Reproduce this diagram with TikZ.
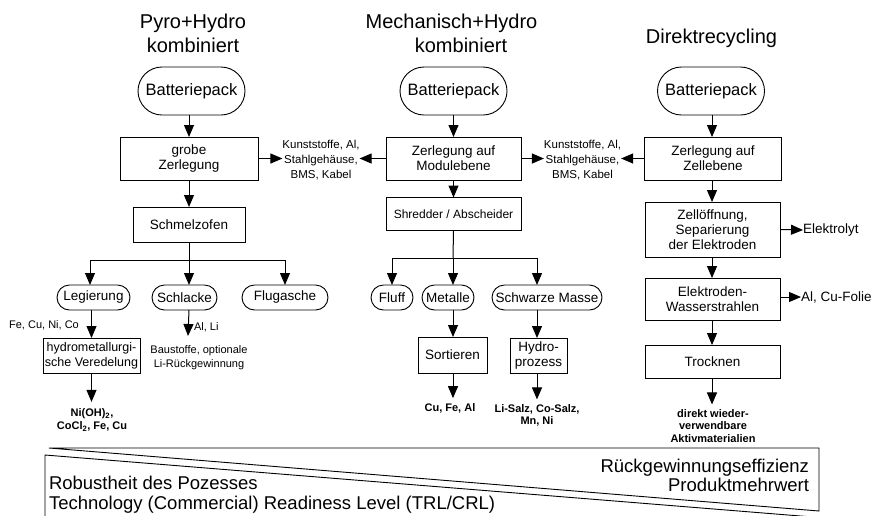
\documentclass[tikz,border=0pt]{standalone}
\usepackage{fontspec}
\setmainfont{Liberation Sans}
\usetikzlibrary{shapes.misc,arrows.meta}
\begin{document}
\begin{tikzpicture}[x=1pt,y=-1pt,
  every node/.style={inner sep=0pt, outer sep=0pt},
  ttl/.style={anchor=base, font=\fontsize{20}{24}\selectfont},
  pbox/.style={draw, line width=0.9pt, align=center, font=\fontsize{13.5}{15}\selectfont},
  stad/.style={draw, line width=0.9pt, rounded rectangle, minimum width=107, minimum height=48, font=\fontsize{16.5}{18}\selectfont},
  oval/.style={draw, line width=0.9pt, rounded rectangle, minimum height=25, font=\fontsize{13.5}{15}\selectfont},
  side/.style={align=center, font=\fontsize{11.5}{15}\selectfont},
  small/.style={align=center, font=\fontsize{11}{14}\selectfont},
  res/.style={align=center, font=\fontsize{11}{12.5}\selectfont\bfseries},
  arr/.style={line width=1pt, -{Triangle[length=12pt,width=10pt]}},
  ln/.style={line width=1pt},
  wedge/.style={line width=0.9pt},
  bot/.style={font=\fontsize{18.5}{20}\selectfont}
]
\useasboundingbox (0,0) rectangle (872,515);

% titles
\node[ttl] (t1a) at (193,28.5) {Pyro+Hydro};
\node[ttl] (t1b) at (193,52.5) {kombiniert};
\node[ttl] (t2a) at (451.5,28.5) {Mechanisch+Hydro};
\node[ttl] (t2b) at (461,52.5) {kombiniert};
\node[ttl] (t3) at (711.5,43) {Direktrecycling};

% ---------- left column
\node[stad] (bpL) at (191.5,91) {Batteriepack};
\node[pbox, minimum width=138, minimum height=43] (grob) at (189,158.5) {grobe\\Zerlegung};
\node[pbox, minimum width=112, minimum height=35] (schm) at (189,224.5) {Schmelzofen};
\coordinate (brL) at (189,260);
\coordinate (bL1) at (90,260);
\coordinate (bL3) at (285,260);
\node[oval, minimum width=73] (leg) at (93.5,297.5) {Legierung};
\node[oval, minimum width=65] (schl) at (184.5,297.5) {Schlacke};
\node[oval, minimum width=86] (flug) at (285,297.5) {Flugasche};
\node[pbox, font=\fontsize{12.5}{15}\selectfont, minimum width=97, minimum height=35] (hydm) at (91.5,355.5) {hydrometallurgi-\\sche Veredelung};
\node[small] (fecu) at (44,325) {Fe, Cu, Ni, Co};
\coordinate (slend) at (188,336);
\node[small, anchor=west] (alli) at (194,327) {Al, Li};
\node[small] (baust) at (199,358) {Baustoffe, optionale\\Li-Rückgewinnung};
\node[res] (resL) at (92,420) {Ni(OH)\textsubscript{2},\\CoCl\textsubscript{2}, Fe, Cu};

\draw[arr] (bpL.south -| grob) -- (grob.north);
\draw[arr] (grob) -- (schm);
\draw[ln] (schm.south) -- (brL);
\draw[ln] (bL1) -- (bL3);
\draw[arr] (bL1) -- (bL1 |- leg.north);
\draw[arr] (brL) -- (brL |- schl.north);
\draw[arr] (bL3) -- (bL3 |- flug.north);
\draw[arr] (leg.south -| hydm.north) -- (hydm.north);
\draw[arr] (brL |- schl.south) -- (slend);
\draw[arr, shorten >=7pt] (hydm.south) -- (hydm.south |- resL.north);

% ---------- middle column
\node[stad] (bpM) at (453.5,91) {Batteriepack};
\node[pbox, minimum width=135, minimum height=43] (mod) at (453.5,158.5) {Zerlegung auf\\Modulebene};
\node[side] (k1) at (321,160) {Kunststoffe, Al,\\Stahlgehäuse,\\BMS, Kabel};
\node[side] (k2) at (582.5,160) {Kunststoffe, Al,\\Stahlgehäuse,\\BMS, Kabel};
\node[pbox, font=\fontsize{12}{14}\selectfont, minimum width=135, minimum height=33] (shr) at (453.5,214) {Shredder / Abscheider};
\coordinate (brM) at (453,258);
\coordinate (bM1) at (392,258);
\coordinate (bM3) at (537,258);
\node[oval, minimum width=42] (fluff) at (392,297.5) {Fluff};
\node[oval, minimum width=52] (met) at (448,297.5) {Metalle};
\node[oval, minimum width=110] (schw) at (547,297.5) {Schwarze Masse};
\node[pbox, minimum width=69, minimum height=36] (sort) at (452.5,355) {Sortieren};
\node[pbox, minimum width=57, minimum height=35] (hyp) at (538.5,355.5) {Hydro-\\prozess};
\node[res] (resM1) at (450,408) {Cu, Fe, Al};
\node[res] (resM2) at (537,415.5) {Li-Salz, Co-Salz,\\Mn, Ni};

\draw[arr] (bpM.south -| mod) -- (mod.north);
\draw[arr] (mod) -- (shr);
\draw[arr] (grob.east) -- (grob.east -| k1.west);
\draw[arr] (mod.west) -- (mod.west -| k1.east);
\draw[arr] (mod.east) -- (mod.east -| k2.west);
\draw[ln] (shr.south) -- (brM);
\draw[ln] (bM1) -- (bM3);
\draw[arr] (bM1) -- (bM1 |- fluff.north);
\draw[arr] (brM) -- (brM |- met.north);
\draw[arr] (bM3) -- (bM3 |- schw.north);
\draw[arr] (brM |- met.south) -- (brM |- sort.north);
\draw[arr] (bM3 |- schw.south) -- (bM3 |- hyp.north);
\draw[arr, shorten >=5pt] (brM |- sort.south) -- (brM |- resM1.north);
\draw[arr, shorten >=5pt] (bM3 |- hyp.south) -- (bM3 |- resM2.north);

% ---------- right column
\node[stad] (bpR) at (711,91) {Batteriepack};
\node[pbox, minimum width=137, minimum height=43] (zell) at (713,158.5) {Zerlegung auf\\Zellebene};
\node[pbox, minimum width=135, minimum height=55] (zoff) at (712.5,229.5) {Zellöffnung,\\Separierung\\der Elektroden};
\node[pbox, minimum width=135, minimum height=42] (elw) at (712.5,299) {Elektroden-\\Wasserstrahlen};
\node[pbox, minimum width=135, minimum height=33] (troc) at (712.5,361.5) {Trocknen};
\node[anchor=west, font=\fontsize{13.5}{15}\selectfont] (elyt) at (803,230) {Elektrolyt};
\node[anchor=west, font=\fontsize{13.5}{15}\selectfont] (alcu) at (801,297) {Al, Cu-Folie};
\node[res] (resR) at (713,426) {direkt wieder-\\verwendbare\\Aktivmaterialien};

\draw[arr] (bpR.south -| 712,0) -- (zell.north -| 712,0);
\draw[arr] (zell.west) -- (zell.west -| k2.east);
\draw[arr] (zell.south -| 712,0) -- (zoff.north -| 712,0);
\draw[arr] (zoff.south -| 712,0) -- (elw.north -| 712,0);
\draw[arr] (elw.south -| 712,0) -- (troc.north -| 712,0);
\draw[arr, shorten >=5pt] (troc.south -| 712,0) -- (resR.north -| 712,0);
\draw[arr] (zoff.east) -- (elyt.west);
\draw[arr] (elw.east |- alcu.west) -- (alcu.west);

% ---------- bottom wedges
\begin{scope}
\clip (0,0) rectangle (872,515);
\draw[wedge] (49,448) -- (819,448) -- (819,511) -- cycle;
\draw[wedge] (45,530) -- (45,455) -- (850,520);
\end{scope}
\node[bot, anchor=base west] (rob) at (49,489) {Robustheit des Pozesses};
\node[bot, anchor=base west] (trl) at (49,509) {Technology (Commercial) Readiness Level (TRL/CRL)};
\node[bot, anchor=base east] (rge) at (809,472.5) {Rückgewinnungseffizienz};
\node[bot, anchor=base east] (pmw) at (809,491) {Produktmehrwert};
\end{tikzpicture}
\end{document}
